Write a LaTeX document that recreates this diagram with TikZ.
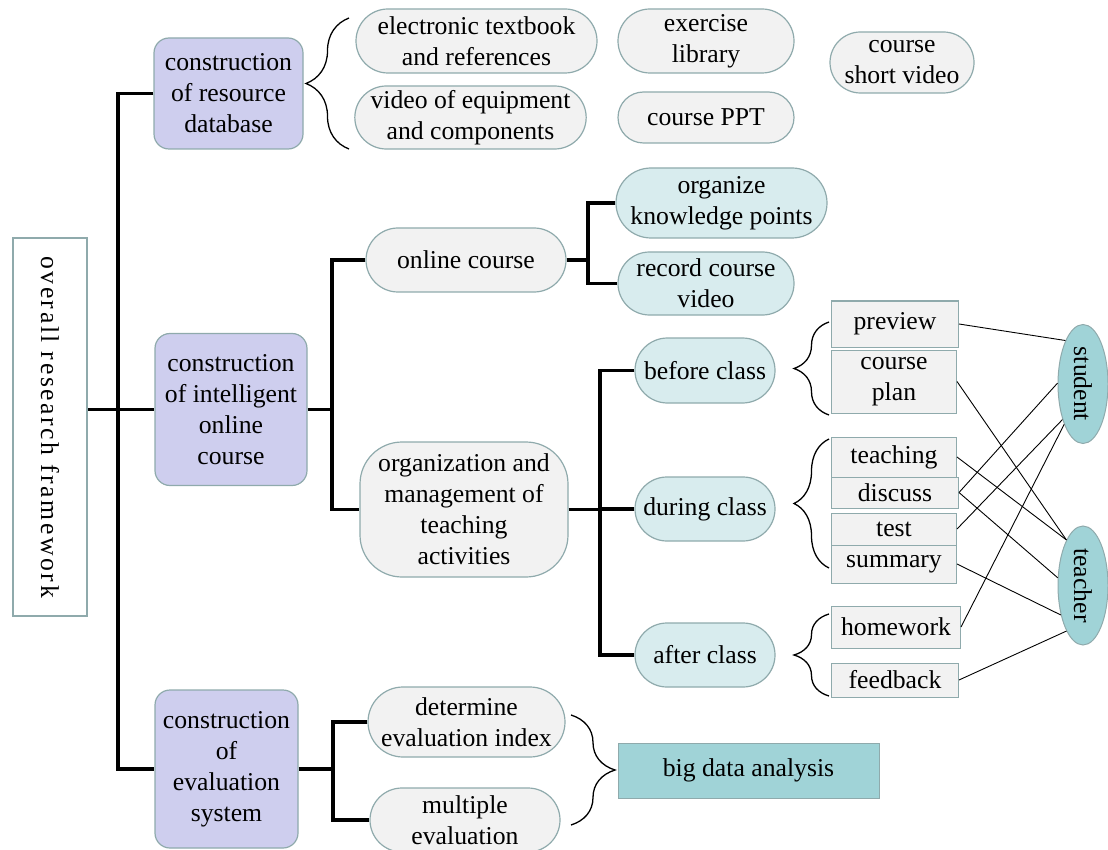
\documentclass[tikz,border=0pt]{standalone}
\usepackage{fontspec}
\setmainfont{Liberation Serif}
\usepackage{tikz}
\usetikzlibrary{shapes,arrows,positioning,calc,decorations.pathreplacing}
\definecolor{frameteal}{RGB}{143,170,172}
\definecolor{topicblue}{RGB}{206,206,238}
\definecolor{pillgray}{RGB}{242,242,242}
\definecolor{pillteal}{RGB}{216,236,238}
\definecolor{roleteal}{RGB}{160,211,215}

\begin{document}
\begin{tikzpicture}[x=1pt, y=-1pt,
  every node/.style={font=\fontsize{25.7}{31}\selectfont, inner sep=0pt, align=center},
  topic/.style={draw=frameteal, line width=1.2pt, fill=topicblue, rounded corners=15pt},
  pill/.style={rounded rectangle, draw=frameteal, line width=1.2pt, fill=pillgray},
  tealpill/.style={pill, fill=pillteal},
  item/.style={draw=frameteal, line width=1pt, fill=pillgray, anchor=west},
  role/.style={ellipse, draw=frameteal, line width=1pt, fill=roleteal, minimum width=50, minimum height=119},
  trunk/.style={line width=3.2pt},
  link/.style={line width=0.9pt},
  curly/.style={decorate, decoration={brace, amplitude=#1}, line width=1.3pt}]
  \useasboundingbox (0,0) rectangle (1108,850);

  % root and first level
  \node[draw=frameteal, line width=2.8pt, minimum width=74, minimum height=378] (root) at (50,427)
    {\rotatebox{-90}{\addfontfeature{LetterSpace=10}overall research framework}};
  \node[topic, minimum width=149, minimum height=111] (res) at (228.5,93.5) {construction\\of resource\\database};
  \node[topic, minimum width=152, minimum height=152] (intel) at (231,409.5) {construction\\of intelligent\\online\\course};
  \node[topic, minimum width=143, minimum height=158] (eval) at (226.5,769) {construction\\of\\evaluation\\system};

  % resource database
  \node[pill, minimum width=241, minimum height=64] (ebook) at (476.5,41) {electronic textbook\\and references};
  \node[pill, minimum width=225, minimum height=63] (vidcomp) at (470.5,117.5) {video of equipment\\and components};
  \node[pill, minimum width=176, minimum height=64] (exlib) at (706,41) {exercise\\library};
  \node[pill, minimum width=176, minimum height=51] (ppt) at (706,117.5) {course PPT};
  \node[pill, minimum width=144, minimum height=61] (shortvid) at (902,62.5) {course\\short video};
  \draw[curly=43] (349,149) -- (349,18);

  % intelligent online course
  \node[pill, minimum width=200, minimum height=64] (online) at (466,260) {online course};
  \node[draw=frameteal, line width=1.2pt, fill=pillgray, rounded corners=42pt,
    minimum width=208, minimum height=135] (org) at (464,509.5) {organization and\\management of\\teaching\\activities};
  \node[tealpill, minimum width=211, minimum height=70] (organize) at (721.5,203) {organize\\knowledge points};
  \node[tealpill, minimum width=176, minimum height=63] (record) at (706,283.5) {record course\\video};
  \node[tealpill, minimum width=140, minimum height=65] (before) at (705,370.5) {before class};
  \node[tealpill, minimum width=140, minimum height=64] (during) at (705,509) {during class};
  \node[tealpill, minimum width=140, minimum height=64] (after) at (705,655) {after class};

  \foreach \nm/\yy/\ww/\hh/\txt in {preview/324/127/46/preview, plan/381.5/125/63/{course\\plan},
      teaching/457/125/40/teaching, discuss/492.5/127/31/discuss, test/529/125/32/test,
      summary/564/125/38/summary, homework/627/129/42/homework, feedback/680/127/34/feedback}
    \node[item, minimum width=\ww, minimum height=\hh] (\nm) at (831,\yy) {\txt};

  \draw[curly=35] (829,415) -- (829,322);
  \draw[curly=35] (829,568) -- (829,439);
  \draw[curly=35] (829,696) -- (829,614);

  \node[role] (student) at (1083,384) {\rotatebox{-90}{student}};
  \node[role] (teacher) at (1083,585.5) {\rotatebox{-90}{teacher}};

  % evaluation system
  \node[pill, minimum width=197, minimum height=70] (determine) at (466.5,722) {determine\\evaluation index};
  \node[pill, minimum width=190, minimum height=64] (multiple) at (465,820) {multiple\\evaluation};
  \node[draw=frameteal, line width=1pt, fill=roleteal, minimum width=261, minimum height=55] (bigdata) at (748.5,770.5) {big data analysis};
  \draw[curly=44] (571,715) -- (571,825);

  % tree lines
  \coordinate (spine) at (118,410);
  \coordinate (fork1) at (332,402);
  \coordinate (fork2) at (588,251);
  \coordinate (fork3) at (600,511);
  \coordinate (fork4) at (333,769);
  \draw[trunk] (root.east |- intel.west) -- (intel.west);
  \draw[trunk] (res.west) -| (spine) |- (eval.west);
  \draw[trunk] (intel.east) -- (intel.east -| fork1);
  \draw[trunk] (online.west) -| (fork1) |- (org.west);
  \draw[trunk] (online.east) -- (online.east -| fork2);
  \draw[trunk] (organize.west) -| (fork2) |- (record.west);
  \draw[trunk] (org.east) -- (org.east -| fork3);
  \draw[trunk] (before.west) -| (fork3) |- (after.west);
  \draw[trunk] (during.west) -- (during.west -| fork3);
  \draw[trunk] (eval.east) -- (eval.east -| fork4);
  \draw[trunk] (determine.west) -| (fork4) |- (multiple.west);

  % who takes part
  \foreach \a/\b in {preview/student.112, plan/teacher.110, teaching/teacher.110, discuss/student.178,
      discuss/teacher.163, test/student.240, summary/teacher.233, homework/student.245, feedback/teacher.250}
    \draw[link] (\a.east) -- (\b);
\end{tikzpicture}
\end{document}
